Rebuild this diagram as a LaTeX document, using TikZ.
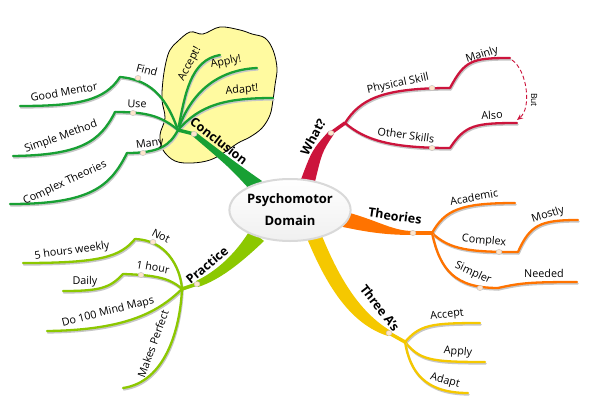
\documentclass[tikz,border=0pt]{standalone}
\usepackage{fontspec}
\setmainfont{Open Sans}
\usetikzlibrary{arrows.meta,shapes.geometric}
\definecolor{cg}{RGB}{24,160,52}
\definecolor{cr}{RGB}{204,20,60}
\definecolor{co}{RGB}{255,115,0}
\definecolor{cy}{RGB}{245,200,0}
\definecolor{cl}{RGB}{140,200,0}
\definecolor{cloudfill}{RGB}{255,250,160}
\newcommand\mmline[2]{\draw[shadowline] #2; \draw[#1,line width=2.3,line cap=round] #2;}
\begin{document}
\begin{tikzpicture}[x=1pt,y=-1pt,
  lbl/.style={font=\fontsize{10.8}{12}\selectfont, inner sep=0pt},
  blbl/.style={font=\fontsize{12.5}{14}\selectfont\bfseries, inner sep=0pt},
  shadowline/.style={draw=gray!45, line width=2, line cap=round, transform canvas={shift={(0.8,1.6)}}},
  knob/.style={draw=gray!55, fill=white!80!orange, line width=0.4, ellipse, minimum width=6, minimum height=5, inner sep=0pt},
  center/.style={ellipse, draw=gray!30, line width=2, top color=white, bottom color=gray!12, minimum width=102, minimum height=62, inner sep=0pt, align=center, font=\fontsize{13}{22}\selectfont\bfseries}]
\useasboundingbox (0,0) rectangle (590,416);
\fill[white] (0,0) rectangle (590,416);

% cloud
\draw[fill=cloudfill, line width=0.8] plot[smooth cycle, tension=0.6] coordinates {
 (177,42) (190,32) (203,34) (220,27) (240,30) (252,34) (265,38) (273,50) (277,68) (275,85) (273,100) (270,115) (262,128) (250,137) (238,143) (225,152) (210,160) (192,163) (175,161) (163,150) (160,135) (165,118) (162,100) (163,80) (166,62) (170,50)};

% coordinates
\coordinate (gJ) at (178,130); \coordinate (gK) at (194,134);
\coordinate (gFind) at (120,77); \coordinate (gGM) at (20,106);
\coordinate (gUse) at (115,112); \coordinate (gSM) at (13,156);
\coordinate (gMany) at (127,153); \coordinate (gCT) at (10,204);
\coordinate (gAcc) at (220,55); \coordinate (gApp) at (257,68); \coordinate (gAda) at (273,98);

\coordinate (rJ) at (345,123); \coordinate (rK) at (331,133);
\coordinate (rPS) at (450,88); \coordinate (rMain) at (510,58);
\coordinate (rOS) at (450,148); \coordinate (rAlso) at (517,123);

\coordinate (oJ) at (432,233); \coordinate (oK) at (413,233);
\coordinate (oAc) at (515,203); \coordinate (oCx) at (518,252); \coordinate (oMo) at (578,220);
\coordinate (oSi) at (498,288); \coordinate (oNe) at (577,282);

\coordinate (yJ) at (405,342); \coordinate (yK) at (389,333);
\coordinate (yAcc) at (480,323); \coordinate (yApp) at (485,362); \coordinate (yAda) at (468,393);

\coordinate (lJ) at (182,289); \coordinate (lK) at (197,284);
\coordinate (lNot) at (135,239); \coordinate (l5h) at (23,263);
\coordinate (l1h) at (123,274); \coordinate (lDa) at (63,291);
\coordinate (lDo) at (47,331); \coordinate (lMP) at (123,388);

% green sub-branches
\mmline{cg}{(gJ) .. controls (185,95) and (190,60) .. (gAcc)}
\mmline{cg}{(gJ) .. controls (190,95) and (215,70) .. (gApp)}
\mmline{cg}{(gJ) .. controls (200,105) and (225,98) .. (gAda)}
\mmline{cg}{(gJ) .. controls (168,103) and (155,80) .. (gFind)}
\mmline{cg}{(gFind) .. controls (105,100) and (80,106) .. (gGM)}
\mmline{cg}{(gJ) .. controls (160,115) and (145,112) .. (gUse)}
\mmline{cg}{(gUse) .. controls (100,142) and (80,155) .. (gSM)}
\mmline{cg}{(gJ) .. controls (170,145) and (160,153) .. (gMany)}
\mmline{cg}{(gMany) .. controls (110,187) and (90,204) .. (gCT)}
\draw[cg, line width=3.5] (gJ) -- (gK);

% red sub-branches
\mmline{cr}{(rJ) .. controls (360,100) and (380,88) .. (rPS)}
\mmline{cr}{(rPS) .. controls (465,60) and (472,58) .. (rMain)}
\mmline{cr}{(rJ) .. controls (365,140) and (390,148) .. (rOS)}
\mmline{cr}{(rOS) .. controls (465,125) and (475,123) .. (rAlso)}
\draw[cr, line width=3.5] (rK) -- (rJ);
\draw[cr, line width=0.9, dashed, dash pattern=on 4pt off 2.5pt, -{Stealth[length=6pt,width=5pt]}]
  (512,60) .. controls (527,70) and (532,108) .. (517,120);

% orange
\mmline{co}{(oJ) .. controls (445,210) and (460,203) .. (oAc)}
\mmline{co}{(oJ) .. controls (450,250) and (470,252) .. (oCx)}
\mmline{co}{(oCx) .. controls (530,225) and (540,220) .. (oMo)}
\mmline{co}{(oJ) .. controls (440,270) and (455,288) .. (oSi)}
\mmline{co}{(oSi) .. controls (520,283) and (530,282) .. (oNe)}
\draw[co, line width=3.5] (oK) -- (oJ);

% yellow
\mmline{cy}{(yJ) .. controls (420,325) and (430,323) .. (yAcc)}
\mmline{cy}{(yJ) .. controls (420,360) and (430,362) .. (yApp)}
\mmline{cy}{(yJ) .. controls (410,372) and (425,393) .. (yAda)}
\draw[cy, line width=3.5] (yK) -- (yJ);

% light green
\mmline{cl}{(lJ) .. controls (180,265) and (165,240) .. (lNot)}
\mmline{cl}{(lNot) .. controls (120,257) and (100,263) .. (l5h)}
\mmline{cl}{(lJ) .. controls (170,278) and (155,275) .. (l1h)}
\mmline{cl}{(l1h) .. controls (110,288) and (100,291) .. (lDa)}
\mmline{cl}{(lJ) .. controls (160,310) and (130,330) .. (lDo)}
\mmline{cl}{(lJ) .. controls (180,330) and (165,382) .. (lMP)}
\draw[cl, line width=3.5] (lK) -- (lJ);

% thick main bands
\fill[cg] (252,192) .. controls (230,168) .. (192.5,136) -- (195.5,132) .. controls (235,162) .. (262,181) -- cycle;
\fill[cr] (300,182) .. controls (312,150) .. (329,131) -- (334,134) .. controls (322,152) .. (314,186) -- cycle;
\fill[co] (334,209) .. controls (375,218) and (390,231) .. (413,231) -- (413,235) .. controls (385,235) and (365,232) .. (334,225) -- cycle;
\fill[cy] (306,236) .. controls (326,285) and (350,324) .. (388,336) -- (390,330.5) .. controls (360,312) and (340,280) .. (322,236) -- cycle;
\fill[cl] (250,230) .. controls (235,255) and (215,272) .. (196,281) -- (198,287) .. controls (220,280) and (242,262) .. (264,241) -- cycle;

% center
\node[center] (ctr) at (290,210) {Psychomotor\\Domain};

% knobs
\foreach \p in {(gK),(138,78),(133,113),(143,153),(rK),(432,88),(432,148),(oK),(499,252),(480,288),(yK),(lK),(153,242),(141,275)}
  \node[knob] at \p {};

% labels green
\node[blbl, rotate=-38] (tConc) at (219,141) {Conclusion};
\node[lbl, rotate=-15] (tFind) at (147,70) {Find};
\node[lbl, rotate=10] (tGM) at (64,92) {Good Mentor};
\node[lbl, rotate=-3] (tUse) at (137,104) {Use};
\node[lbl, rotate=20] (tSM) at (61,137) {Simple Method};
\node[lbl, rotate=8] (tMany) at (150,144) {Many};
\node[lbl, rotate=25] (tCT) at (65,183) {Complex Theories};
\node[lbl, rotate=62] (tAcc) at (190,64) {Accept!};
\node[lbl, rotate=12] (tApp) at (226,62) {Apply!};
\node[lbl, rotate=5] (tAda) at (242,90) {Adapt!};

% labels red
\node[blbl, rotate=62] (tWhat) at (313,137) {What?};
\node[lbl, rotate=12] (tPS) at (398,84) {Physical Skill};
\node[lbl, rotate=18] (tMain) at (482,55) {Mainly};
\node[lbl, rotate=-8] (tOS) at (406,135) {Other Skills};
\node[lbl, rotate=3] (tAlso) at (492,115) {Also};
\node[lbl, rotate=-90, font=\fontsize{8.5}{9}\selectfont] (tBut) at (534,100) {But};

% labels orange
\node[blbl, rotate=-8] (tTh) at (395,216) {Theories};
\node[lbl, rotate=10] (tAcad) at (474,197) {Academic};
\node[lbl, rotate=-5] (tCx) at (484,241) {Complex};
\node[lbl, rotate=18] (tMo) at (548,215) {Mostly};
\node[lbl, rotate=-25] (tSi) at (473,273) {Simpler};
\node[lbl] (tNe) at (544,273) {Needed};

% labels yellow
\node[blbl, rotate=-52] (tThree) at (380,308) {Three A's};
\node[lbl, rotate=6] (tYAcc) at (447,315) {Accept};
\node[lbl, rotate=-5] (tYApp) at (458,352) {Apply};
\node[lbl, rotate=-15] (tYAda) at (445,381) {Adapt};

% labels light green
\node[blbl, rotate=40] (tPr) at (207,265) {Practice};
\node[lbl, rotate=-28] (tNot) at (161,236) {Not};
\node[lbl, rotate=8] (t5h) at (72,251) {5 hours weekly};
\node[lbl, rotate=-10] (t1h) at (153,267) {1 hour};
\node[lbl] (tDa) at (85,282) {Daily};
\node[lbl, rotate=14] (tDo) at (108,312) {Do 100 Mind Maps};
\node[lbl, rotate=70] (tMP) at (153,344) {Makes Perfect};
\end{tikzpicture}
\end{document}
